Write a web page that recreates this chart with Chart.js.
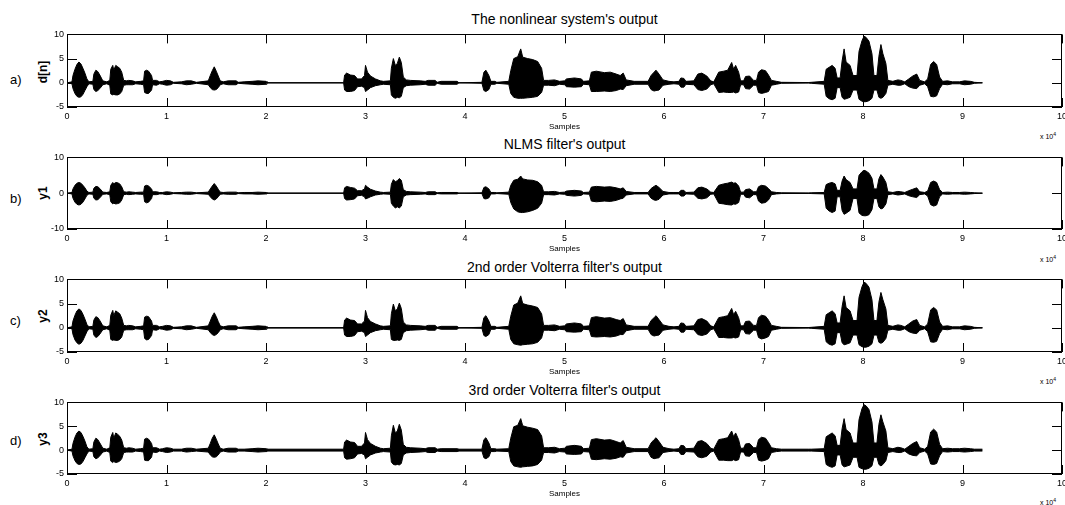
<!DOCTYPE html>
<html lang="en">
<head>
<meta charset="UTF-8">
<title>Filter outputs</title>
<script src="https://cdn.jsdelivr.net/npm/chart.js"></script>
<style>
    html, body { margin: 0; padding: 0; width: 1065px; height: 505px; overflow: hidden; background: #fff; }
    body { position: relative; font-family: "Liberation Sans", Arial, sans-serif; color: #000; }
    canvas { position: absolute; left: 0; }
    .titulo { position: absolute; left: 67px; width: 995px; text-align: center; font-size: 14px; line-height: 16px; }
    .painel { position: absolute; left: 10px; font-size: 13px; line-height: 16px; }
    .ylab { position: absolute; left: 43px; font-size: 12px; font-weight: bold; transform: translate(-50%, -50%) rotate(-90deg); white-space: nowrap; }
    .escala { position: absolute; left: 1040px; font-size: 7px; line-height: 8px; white-space: nowrap; }
    .escala sup { font-size: 5px; }
</style>
</head>
<body>
    <div class="titulo" style="top:11px">The nonlinear system's output</div>
    <div class="titulo" style="top:136px">NLMS filter's output</div>
    <div class="titulo" style="top:259px">2nd order Volterra filter's output</div>
    <div class="titulo" style="top:382px">3rd order Volterra filter's output</div>

    <div class="painel" style="top:72px">a)</div>
    <div class="painel" style="top:191px">b)</div>
    <div class="painel" style="top:313px">c)</div>
    <div class="painel" style="top:433px">d)</div>

    <div class="ylab" style="top:72px">d[n]</div>
    <div class="ylab" style="top:193px">y1</div>
    <div class="ylab" style="top:316px">y2</div>
    <div class="ylab" style="top:439px">y3</div>

    <div class="escala" style="top:130px">x 10<sup>4</sup></div>
    <div class="escala" style="top:253px">x 10<sup>4</sup></div>
    <div class="escala" style="top:375px">x 10<sup>4</sup></div>
    <div class="escala" style="top:496px">x 10<sup>4</sup></div>

    <canvas id="ga" width="1075" height="111" style="top:26px"></canvas>
    <canvas id="gb" width="1075" height="110" style="top:149px"></canvas>
    <canvas id="gc" width="1075" height="111" style="top:271px"></canvas>
    <canvas id="gd" width="1075" height="110" style="top:394px"></canvas>

<script>
    // amostras em unidades de 10^4 (pontos da envoltória)
    const amostras = [
        0.00, 0.05, 0.06, 0.08, 0.10, 0.12, 0.14, 0.16, 0.18, 0.20,
        0.22, 0.26, 0.27, 0.29, 0.31, 0.33, 0.36, 0.40, 0.43, 0.44,
        0.46, 0.47, 0.49, 0.51, 0.53, 0.55, 0.57, 0.60, 0.62, 0.66,
        0.69, 0.74, 0.77, 0.78, 0.80, 0.82, 0.85, 0.86, 0.90, 0.93,
        0.96, 1.00, 1.04, 1.07, 1.15, 1.20, 1.25, 1.30, 1.42, 1.44,
        1.46, 1.48, 1.50, 1.52, 1.54, 1.57, 1.62, 1.70, 1.72, 1.78,
        1.86, 1.92, 2.00, 2.01, 2.78, 2.79, 2.81, 2.85, 2.89, 2.92,
        2.96, 2.99, 3.00, 3.02, 3.05, 3.10, 3.15, 3.18, 3.25, 3.26,
        3.28, 3.30, 3.32, 3.34, 3.36, 3.38, 3.41, 3.45, 3.55, 3.60,
        3.63, 3.70, 3.72, 3.76, 3.92, 3.94, 4.17, 4.19, 4.21, 4.24,
        4.26, 4.30, 4.32, 4.44, 4.46, 4.49, 4.53, 4.56, 4.58, 4.63,
        4.68, 4.73, 4.77, 4.79, 4.84, 4.90, 4.95, 5.00, 5.02, 5.10,
        5.17, 5.19, 5.25, 5.27, 5.32, 5.40, 5.46, 5.52, 5.56, 5.59,
        5.62, 5.70, 5.84, 5.87, 5.90, 5.92, 5.95, 5.99, 6.05, 6.10,
        6.15, 6.17, 6.20, 6.22, 6.30, 6.34, 6.38, 6.43, 6.47, 6.50,
        6.55, 6.60, 6.64, 6.68, 6.70, 6.72, 6.75, 6.77, 6.80, 6.82,
        6.86, 6.90, 6.93, 6.95, 6.98, 7.02, 7.05, 7.08, 7.13, 7.18,
        7.45, 7.48, 7.61, 7.63, 7.66, 7.69, 7.72, 7.74, 7.77, 7.79,
        7.81, 7.83, 7.87, 7.90, 7.94, 7.96, 7.99, 8.01, 8.03, 8.06,
        8.09, 8.11, 8.14, 8.16, 8.18, 8.20, 8.23, 8.25, 8.30, 8.35,
        8.38, 8.42, 8.46, 8.50, 8.54, 8.57, 8.62, 8.65, 8.68, 8.71,
        8.74, 8.77, 8.80, 8.85, 8.90, 8.97, 9.02, 9.08, 9.12, 9.20
    ];

    // a) d[n]
    const dnMax = [
        0, 0.2, 1.5, 2.8, 3.8, 4.3, 3.9, 3.0, 2.0, 0.8,
        0.2, 0.3, 1.8, 2.6, 2.3, 1.6, 0.4, 0.2, 0.5, 2.8,
        3.6, 2.6, 3.6, 3.3, 3.0, 2.2, 0.5, 0.4, 0.5, 0.4,
        0.2, 0.3, 0.4, 2.4, 2.6, 2.4, 1.5, 0.5, 0.5, 0.2,
        0.3, 0.5, 0.4, 0.1, 0.2, 0.4, 0.4, 0.1, 0.4, 1.5,
        2.5, 3.3, 2.4, 1.4, 0.4, 0.2, 0.4, 0.4, 0.1, 0.2,
        0.3, 0.4, 0.3, 0, 0, 1.6, 2.0, 1.6, 1.5, 0.8,
        0.8, 1.5, 3.6, 2.2, 1.4, 0.8, 0.4, 0.3, 0.4, 3.0,
        5.0, 3.6, 4.0, 5.3, 4.2, 1.2, 0.6, 0.5, 0.4, 0.3,
        0.5, 0.5, 0.1, 0.3, 0.3, 0, 0.1, 2.2, 2.6, 1.5,
        0.3, 0.3, 0.1, 0.3, 2.5, 5.0, 5.4, 7.0, 5.3, 5.0,
        4.8, 4.4, 3.0, 0.5, 0.5, 0.6, 0.3, 0.4, 0.8, 1.0,
        0.8, 0.3, 0.4, 2.2, 2.4, 2.1, 2.2, 1.8, 1.5, 2.0,
        0.6, 0.3, 0.3, 1.5, 2.2, 2.6, 1.8, 0.6, 0.3, 0.2,
        0.3, 1.0, 0.9, 0.3, 0.4, 1.8, 2.0, 1.4, 0.4, 0.2,
        2.2, 2.4, 2.6, 4.2, 2.8, 3.6, 2.2, 0.4, 0.4, 1.3,
        1.4, 0.5, 0.5, 2.2, 2.7, 2.5, 1.6, 0.5, 0.3, 0.1,
        0.05, 0.1, 0.3, 2.8, 3.2, 3.6, 3.0, 1.0, 1.0, 4.5,
        7.0, 4.3, 3.6, 1.5, 1.5, 6.5, 8.7, 9.6, 9.4, 8.6,
        6.0, 1.5, 1.5, 5.5, 7.9, 6.0, 4.0, 0.5, 0.3, 0.6,
        0.5, 0.2, 0.8, 1.4, 1.8, 0.5, 0.2, 0.8, 3.8, 4.4,
        3.8, 1.2, 0.3, 0.4, 0.2, 0.2, 0.4, 0.3, 0.1, 0
    ];
    const dnMin = [
        0, -0.2, -1.2, -2.2, -2.8, -3.0, -2.9, -2.4, -1.6, -0.8,
        -0.2, -0.3, -1.4, -1.8, -1.6, -1.2, -0.4, -0.2, -0.5, -2.3,
        -2.5, -2.4, -2.5, -2.5, -2.3, -1.8, -0.5, -0.4, -0.4, -0.4,
        -0.2, -0.3, -0.4, -2.0, -2.2, -2.2, -1.5, -0.4, -0.5, -0.2,
        -0.3, -0.5, -0.4, -0.1, -0.2, -0.4, -0.3, -0.1, -0.4, -1.0,
        -1.4, -1.5, -1.4, -1.0, -0.4, -0.2, -0.4, -0.4, -0.1, -0.2,
        -0.3, -0.4, -0.3, 0, 0, -1.5, -1.8, -1.8, -1.6, -0.8,
        -0.7, -1.0, -1.8, -1.5, -1.0, -0.6, -0.4, -0.3, -0.4, -2.5,
        -3.0, -3.2, -3.0, -3.1, -2.8, -1.0, -0.6, -0.5, -0.4, -0.3,
        -0.5, -0.5, -0.1, -0.3, -0.3, 0, -0.1, -1.6, -1.8, -1.4,
        -0.3, -0.3, -0.1, -0.3, -2.2, -3.0, -3.2, -3.2, -3.2, -3.1,
        -3.0, -2.8, -2.0, -0.5, -0.5, -0.6, -0.3, -0.4, -0.8, -0.9,
        -0.8, -0.3, -0.4, -1.8, -1.8, -1.7, -1.8, -1.6, -1.3, -1.4,
        -0.6, -0.3, -0.3, -1.4, -1.7, -1.6, -1.5, -0.5, -0.3, -0.2,
        -0.3, -0.9, -0.9, -0.3, -0.4, -1.4, -1.6, -1.3, -0.4, -0.2,
        -2.0, -1.9, -2.0, -2.0, -1.9, -2.1, -1.9, -0.4, -0.4, -1.2,
        -1.3, -0.5, -0.5, -2.0, -2.2, -2.0, -1.8, -0.5, -0.3, -0.1,
        -0.05, -0.1, -0.3, -2.8, -3.3, -3.5, -3.2, -1.0, -1.0, -3.0,
        -3.4, -3.3, -3.0, -1.5, -1.5, -3.4, -3.8, -3.9, -3.9, -3.7,
        -3.2, -1.5, -1.5, -3.0, -3.2, -3.0, -2.2, -0.5, -0.3, -0.5,
        -0.5, -0.2, -0.8, -1.1, -1.2, -0.5, -0.2, -0.8, -2.8, -2.9,
        -2.7, -1.2, -0.3, -0.4, -0.2, -0.2, -0.4, -0.3, -0.1, 0
    ];

    // b) y1 (NLMS)
    const y1Max = [
        0, 0.2, 1.2, 2.2, 2.8, 3.0, 2.8, 2.2, 1.5, 0.6,
        0.2, 0.3, 1.4, 1.9, 1.8, 1.3, 0.3, 0.2, 0.4, 2.2,
        3.0, 2.6, 3.0, 2.9, 2.6, 1.8, 0.4, 0.3, 0.4, 0.3,
        0.2, 0.3, 0.3, 2.0, 2.2, 2.0, 1.2, 0.4, 0.4, 0.2,
        0.2, 0.4, 0.3, 0.1, 0.2, 0.3, 0.3, 0.1, 0.3, 1.2,
        2.0, 2.7, 2.0, 1.1, 0.3, 0.2, 0.3, 0.3, 0.1, 0.2,
        0.2, 0.3, 0.2, 0, 0, 1.5, 1.9, 1.6, 1.4, 0.7,
        0.7, 1.2, 2.2, 1.7, 1.1, 0.6, 0.3, 0.2, 0.3, 2.5,
        3.8, 3.2, 3.5, 4.1, 3.6, 1.0, 0.5, 0.4, 0.3, 0.2,
        0.4, 0.4, 0.1, 0.2, 0.2, 0, 0.1, 1.6, 1.8, 1.2,
        0.2, 0.2, 0.1, 0.3, 2.2, 3.6, 3.9, 4.8, 4.0, 3.7,
        3.6, 3.2, 2.2, 0.4, 0.4, 0.5, 0.2, 0.3, 0.6, 0.8,
        0.6, 0.2, 0.3, 1.7, 1.9, 1.7, 1.8, 1.5, 1.2, 1.5,
        0.5, 0.2, 0.2, 1.3, 1.9, 2.2, 1.6, 0.5, 0.2, 0.2,
        0.2, 0.8, 0.8, 0.2, 0.3, 1.5, 1.7, 1.2, 0.3, 0.2,
        2.2, 2.6, 2.8, 3.1, 2.8, 2.9, 2.0, 0.3, 0.3, 1.0,
        1.2, 0.4, 0.4, 1.8, 2.2, 2.0, 1.3, 0.4, 0.2, 0.1,
        0.05, 0.1, 0.2, 2.4, 2.8, 3.0, 2.6, 0.8, 0.8, 3.4,
        4.8, 3.8, 3.0, 1.2, 1.2, 5.0, 6.0, 6.4, 6.2, 5.6,
        4.2, 1.2, 1.2, 4.0, 5.2, 4.5, 3.0, 0.4, 0.2, 0.5,
        0.4, 0.2, 0.7, 1.1, 1.5, 0.4, 0.2, 0.6, 3.0, 3.4,
        3.0, 1.0, 0.2, 0.3, 0.2, 0.2, 0.3, 0.2, 0.1, 0
    ];
    const y1Min = [
        0, -0.2, -1.4, -2.5, -3.1, -3.3, -3.1, -2.5, -1.6, -0.6,
        -0.2, -0.3, -1.4, -1.9, -1.8, -1.3, -0.3, -0.2, -0.4, -2.4,
        -3.0, -2.8, -3.0, -2.9, -2.7, -1.9, -0.4, -0.3, -0.4, -0.3,
        -0.2, -0.3, -0.3, -2.4, -2.7, -2.5, -1.5, -0.4, -0.4, -0.2,
        -0.2, -0.4, -0.3, -0.1, -0.2, -0.3, -0.3, -0.1, -0.3, -1.0,
        -1.6, -1.9, -1.6, -1.0, -0.3, -0.2, -0.3, -0.3, -0.1, -0.2,
        -0.2, -0.3, -0.2, 0, 0, -1.5, -1.9, -1.8, -1.6, -0.7,
        -0.6, -1.0, -1.6, -1.4, -1.0, -0.5, -0.3, -0.2, -0.3, -2.8,
        -3.6, -4.1, -3.8, -4.1, -3.6, -1.0, -0.5, -0.4, -0.3, -0.2,
        -0.4, -0.4, -0.1, -0.2, -0.2, 0, -0.1, -1.5, -1.6, -1.3,
        -0.2, -0.2, -0.1, -0.3, -2.6, -4.4, -5.2, -5.4, -5.4, -5.2,
        -4.8, -4.2, -2.8, -0.4, -0.4, -0.5, -0.2, -0.3, -0.6, -0.8,
        -0.6, -0.2, -0.3, -2.2, -2.4, -2.2, -2.3, -2.0, -1.6, -1.4,
        -0.5, -0.2, -0.2, -1.4, -1.9, -2.0, -1.7, -0.5, -0.2, -0.2,
        -0.2, -0.8, -0.8, -0.2, -0.3, -1.4, -1.6, -1.3, -0.3, -0.2,
        -2.8, -3.0, -3.2, -3.3, -3.0, -3.1, -2.6, -0.3, -0.3, -1.1,
        -1.3, -0.4, -0.4, -2.2, -2.8, -2.6, -1.9, -0.4, -0.2, -0.1,
        -0.05, -0.1, -0.2, -4.2, -5.0, -5.4, -5.0, -1.0, -1.0, -4.8,
        -5.9, -5.6, -4.8, -1.5, -1.5, -5.5, -6.2, -6.3, -6.3, -6.0,
        -4.6, -1.5, -1.5, -3.8, -4.4, -4.2, -3.0, -0.4, -0.2, -0.5,
        -0.4, -0.2, -0.7, -1.0, -1.2, -0.4, -0.2, -0.8, -3.2, -3.6,
        -3.3, -1.0, -0.2, -0.3, -0.2, -0.2, -0.3, -0.2, -0.1, 0
    ];

    // c) y2 (Volterra 2a ordem)
    const y2Max = [
        0, 0.2, 1.4, 2.6, 3.5, 3.9, 3.6, 2.8, 1.8, 0.7,
        0.2, 0.3, 1.6, 2.3, 2.1, 1.5, 0.4, 0.2, 0.5, 2.6,
        3.6, 2.5, 3.5, 3.2, 2.9, 2.0, 0.5, 0.4, 0.5, 0.4,
        0.2, 0.3, 0.4, 2.2, 2.4, 2.3, 1.4, 0.5, 0.5, 0.2,
        0.3, 0.5, 0.4, 0.1, 0.2, 0.4, 0.4, 0.1, 0.4, 1.4,
        2.4, 3.1, 2.3, 1.3, 0.4, 0.2, 0.4, 0.4, 0.1, 0.2,
        0.3, 0.4, 0.3, 0, 0, 1.6, 2.0, 1.6, 1.5, 0.8,
        0.8, 1.4, 3.6, 2.1, 1.3, 0.8, 0.4, 0.3, 0.4, 2.9,
        4.9, 3.5, 3.9, 5.1, 4.0, 1.2, 0.6, 0.5, 0.4, 0.3,
        0.5, 0.5, 0.1, 0.3, 0.3, 0, 0.1, 2.1, 2.5, 1.4,
        0.3, 0.3, 0.1, 0.3, 2.4, 4.7, 5.1, 6.6, 5.0, 4.7,
        4.5, 4.2, 2.9, 0.5, 0.5, 0.6, 0.3, 0.4, 0.8, 1.0,
        0.8, 0.3, 0.4, 2.1, 2.3, 2.0, 2.1, 1.7, 1.5, 1.9,
        0.6, 0.3, 0.3, 1.5, 2.1, 2.5, 1.7, 0.6, 0.3, 0.2,
        0.3, 1.0, 0.9, 0.3, 0.4, 1.7, 1.9, 1.4, 0.4, 0.2,
        2.1, 2.3, 2.5, 4.0, 2.7, 3.4, 2.1, 0.4, 0.4, 1.3,
        1.4, 0.5, 0.5, 2.1, 2.6, 2.4, 1.6, 0.5, 0.3, 0.1,
        0.05, 0.1, 0.3, 2.7, 3.1, 3.5, 2.9, 1.0, 1.0, 4.4,
        6.6, 4.2, 3.5, 1.5, 1.5, 6.3, 8.5, 9.4, 9.2, 8.4,
        5.8, 1.5, 1.5, 5.3, 7.3, 5.8, 3.9, 0.5, 0.3, 0.6,
        0.5, 0.2, 0.8, 1.4, 1.7, 0.5, 0.2, 0.8, 3.7, 4.2,
        3.7, 1.2, 0.3, 0.4, 0.2, 0.2, 0.4, 0.3, 0.1, 0
    ];
    const y2Min = [
        0, -0.2, -1.4, -2.5, -3.1, -3.4, -3.2, -2.6, -1.7, -0.8,
        -0.2, -0.3, -1.5, -2.0, -1.8, -1.3, -0.4, -0.2, -0.5, -2.4,
        -2.6, -2.5, -2.6, -2.6, -2.4, -1.9, -0.5, -0.4, -0.4, -0.4,
        -0.2, -0.3, -0.4, -2.2, -2.5, -2.4, -1.6, -0.4, -0.5, -0.2,
        -0.3, -0.5, -0.4, -0.1, -0.2, -0.4, -0.3, -0.1, -0.4, -1.0,
        -1.4, -1.6, -1.4, -1.0, -0.4, -0.2, -0.4, -0.4, -0.1, -0.2,
        -0.3, -0.4, -0.3, 0, 0, -1.5, -1.8, -1.8, -1.6, -0.8,
        -0.7, -1.0, -1.8, -1.5, -1.0, -0.6, -0.4, -0.3, -0.4, -2.4,
        -2.6, -2.6, -2.5, -2.6, -2.4, -1.0, -0.6, -0.5, -0.4, -0.3,
        -0.5, -0.5, -0.1, -0.3, -0.3, 0, -0.1, -1.6, -1.8, -1.4,
        -0.3, -0.3, -0.1, -0.3, -2.4, -3.3, -3.5, -3.6, -3.5, -3.4,
        -3.3, -3.0, -2.1, -0.5, -0.5, -0.6, -0.3, -0.4, -0.8, -0.9,
        -0.8, -0.3, -0.4, -1.8, -1.9, -1.8, -1.9, -1.7, -1.4, -1.4,
        -0.6, -0.3, -0.3, -1.4, -1.7, -1.6, -1.5, -0.5, -0.3, -0.2,
        -0.3, -0.9, -0.9, -0.3, -0.4, -1.4, -1.6, -1.3, -0.4, -0.2,
        -2.0, -2.0, -2.1, -2.1, -2.0, -2.1, -1.9, -0.4, -0.4, -1.2,
        -1.3, -0.5, -0.5, -2.0, -2.3, -2.1, -1.8, -0.5, -0.3, -0.1,
        -0.05, -0.1, -0.3, -2.9, -3.4, -3.6, -3.3, -1.0, -1.0, -3.1,
        -3.5, -3.4, -3.1, -1.5, -1.5, -3.5, -3.9, -4.0, -4.0, -3.8,
        -3.3, -1.5, -1.5, -3.0, -3.2, -3.0, -2.2, -0.5, -0.3, -0.5,
        -0.5, -0.2, -0.8, -1.1, -1.2, -0.5, -0.2, -0.8, -2.9, -3.0,
        -2.8, -1.2, -0.3, -0.4, -0.2, -0.2, -0.4, -0.3, -0.1, 0
    ];

    // d) y3 (Volterra 3a ordem)
    const y3Max = [
        0, 0.2, 1.4, 2.7, 3.6, 4.0, 3.7, 2.9, 1.9, 0.7,
        0.2, 0.3, 1.7, 2.5, 2.2, 1.5, 0.4, 0.2, 0.5, 2.7,
        3.7, 2.5, 3.6, 3.3, 2.9, 2.1, 0.5, 0.4, 0.5, 0.4,
        0.2, 0.3, 0.4, 2.3, 2.5, 2.3, 1.4, 0.5, 0.5, 0.2,
        0.3, 0.5, 0.4, 0.2, 0.2, 0.4, 0.4, 0.2, 0.4, 1.4,
        2.5, 3.2, 2.3, 1.3, 0.4, 0.2, 0.4, 0.4, 0.2, 0.2,
        0.3, 0.4, 0.3, 0.2, 0.2, 1.7, 2.1, 1.7, 1.6, 0.8,
        0.8, 1.5, 3.7, 2.2, 1.4, 0.8, 0.4, 0.3, 0.4, 3.0,
        5.2, 3.6, 4.0, 5.4, 4.2, 1.2, 0.6, 0.5, 0.4, 0.3,
        0.5, 0.5, 0.2, 0.3, 0.3, 0.2, 0.2, 2.2, 2.6, 1.5,
        0.3, 0.3, 0.2, 0.3, 2.5, 4.9, 5.2, 6.6, 5.1, 4.8,
        4.6, 4.3, 3.0, 0.5, 0.5, 0.6, 0.3, 0.4, 0.8, 1.0,
        0.8, 0.3, 0.4, 2.2, 2.4, 2.1, 2.2, 1.8, 1.5, 2.0,
        0.6, 0.3, 0.3, 1.5, 2.2, 2.6, 1.8, 0.6, 0.3, 0.2,
        0.3, 1.0, 0.9, 0.3, 0.4, 1.8, 2.0, 1.4, 0.4, 0.2,
        2.2, 2.4, 2.6, 4.0, 2.8, 3.6, 2.2, 0.4, 0.4, 1.3,
        1.4, 0.5, 0.5, 2.2, 2.7, 2.5, 1.6, 0.5, 0.3, 0.2,
        0.2, 0.2, 0.3, 2.8, 3.2, 3.6, 3.0, 1.0, 1.0, 4.5,
        6.6, 4.3, 3.6, 1.5, 1.5, 6.4, 8.7, 9.5, 9.3, 8.5,
        5.9, 1.5, 1.5, 5.4, 7.4, 5.9, 4.0, 0.5, 0.3, 0.6,
        0.5, 0.2, 0.8, 1.4, 1.8, 0.5, 0.2, 0.8, 3.8, 4.4,
        3.8, 1.2, 0.3, 0.4, 0.3, 0.3, 0.4, 0.3, 0.2, 0.2
    ];
    const y3Min = [
        0, -0.2, -1.2, -2.2, -2.8, -3.0, -2.9, -2.4, -1.6, -0.8,
        -0.2, -0.3, -1.4, -1.8, -1.6, -1.2, -0.4, -0.2, -0.5, -2.3,
        -2.6, -2.4, -2.6, -2.5, -2.3, -1.8, -0.5, -0.4, -0.4, -0.4,
        -0.2, -0.3, -0.4, -2.1, -2.2, -2.2, -1.5, -0.4, -0.5, -0.2,
        -0.3, -0.5, -0.4, -0.2, -0.2, -0.4, -0.3, -0.2, -0.4, -1.0,
        -1.4, -1.5, -1.4, -1.0, -0.4, -0.2, -0.4, -0.4, -0.2, -0.2,
        -0.3, -0.4, -0.3, -0.2, -0.2, -1.6, -1.9, -1.8, -1.6, -0.8,
        -0.7, -1.0, -1.8, -1.5, -1.0, -0.6, -0.4, -0.3, -0.4, -2.5,
        -3.0, -3.1, -3.0, -3.1, -2.8, -1.0, -0.6, -0.5, -0.4, -0.3,
        -0.5, -0.5, -0.2, -0.3, -0.3, -0.2, -0.2, -1.6, -1.8, -1.4,
        -0.3, -0.3, -0.2, -0.3, -2.4, -3.3, -3.5, -3.6, -3.5, -3.4,
        -3.3, -3.0, -2.1, -0.5, -0.5, -0.6, -0.3, -0.4, -0.8, -0.9,
        -0.8, -0.3, -0.4, -1.9, -2.0, -1.8, -1.9, -1.7, -1.4, -1.5,
        -0.6, -0.3, -0.3, -1.5, -1.8, -1.7, -1.6, -0.5, -0.3, -0.2,
        -0.3, -0.9, -0.9, -0.3, -0.4, -1.4, -1.6, -1.3, -0.4, -0.2,
        -2.1, -2.1, -2.2, -2.2, -2.0, -2.2, -2.0, -0.4, -0.4, -1.2,
        -1.3, -0.5, -0.5, -2.1, -2.3, -2.1, -1.8, -0.5, -0.3, -0.2,
        -0.2, -0.2, -0.3, -3.0, -3.4, -3.6, -3.3, -1.0, -1.0, -3.1,
        -3.5, -3.4, -3.1, -1.5, -1.5, -3.6, -3.9, -4.0, -4.0, -3.8,
        -3.3, -1.5, -1.5, -3.0, -3.3, -3.0, -2.2, -0.5, -0.3, -0.5,
        -0.5, -0.2, -0.8, -1.1, -1.2, -0.5, -0.2, -0.8, -2.9, -3.0,
        -2.8, -1.2, -0.3, -0.4, -0.3, -0.3, -0.4, -0.3, -0.2, -0.2
    ];

    const fimSinal = 9.2;
    const xTicks = [0, 1, 2, 3, 4, 5, 6, 7, 8, 9, 10];

    const paineis = [
        { id: "ga", max: dnMax, min: dnMin, yMin: -5, yMax: 10, passo: 5, base: "#7a7a7a" },
        { id: "gb", max: y1Max, min: y1Min, yMin: -10, yMax: 10, passo: 10, base: "#555555" },
        { id: "gc", max: y2Max, min: y2Min, yMin: -5, yMax: 10, passo: 5, base: "#000000" },
        { id: "gd", max: y3Max, min: y3Min, yMin: -5, yMax: 10, passo: 5, base: "#000000" }
    ];

    paineis.forEach(p => {
        if (p.max.length !== amostras.length || p.min.length !== amostras.length) {
            throw new Error(p.id + ": " + p.max.length + "/" + p.min.length + " vs " + amostras.length);
        }
    });

    // caixa e ticks para dentro, estilo MATLAB
    const caixaTicks = {
        id: "caixaTicks",
        afterDraw(chart) {
            const ctx = chart.ctx;
            const a = chart.chartArea;
            const sx = chart.scales.x;
            const sy = chart.scales.y;
            ctx.save();
            ctx.strokeStyle = "#000";
            ctx.lineWidth = 1;
            ctx.beginPath();
            sx.ticks.forEach(t => {
                const px = Math.round(sx.getPixelForValue(t.value)) + 0.5;
                ctx.moveTo(px, a.top); ctx.lineTo(px, a.top + 9);
                ctx.moveTo(px, a.bottom); ctx.lineTo(px, a.bottom - 9);
            });
            sy.ticks.forEach(t => {
                const py = Math.round(sy.getPixelForValue(t.value)) + 0.5;
                ctx.moveTo(a.left, py); ctx.lineTo(a.left + 10, py);
                ctx.moveTo(a.right, py); ctx.lineTo(a.right - 10, py);
            });
            ctx.stroke();
            ctx.strokeRect(Math.round(a.left) + 0.5, Math.round(a.top) + 0.5,
                Math.round(a.right - a.left) - 1, Math.round(a.bottom - a.top) - 1);
            ctx.restore();
        }
    };

    const fonte = { family: "'Liberation Sans', Arial, sans-serif", size: 9 };

    paineis.forEach(p => {
        const ctx = document.getElementById(p.id).getContext("2d");
        new Chart(ctx, {
            type: "line",
            data: {
                datasets: [
                    {
                        data: amostras.map((x, i) => ({ x: x, y: p.max[i] })),
                        borderColor: "#000",
                        backgroundColor: "#000",
                        borderWidth: 1,
                        pointRadius: 0,
                        fill: "+1"
                    },
                    {
                        data: amostras.map((x, i) => ({ x: x, y: p.min[i] })),
                        borderColor: "#000",
                        borderWidth: 1,
                        pointRadius: 0,
                        fill: false
                    },
                    {
                        data: [{ x: 0, y: 0 }, { x: fimSinal, y: 0 }],
                        borderColor: p.base,
                        borderWidth: 1,
                        pointRadius: 0,
                        fill: false
                    }
                ]
            },
            options: {
                responsive: false,
                animation: false,
                devicePixelRatio: 1,
                layout: { padding: { top: 8, right: 13, left: 0, bottom: 0 } },
                plugins: {
                    legend: { display: false },
                    tooltip: { enabled: false }
                },
                scales: {
                    x: {
                        type: "linear",
                        min: 0,
                        max: 10,
                        afterBuildTicks: s => { s.ticks = xTicks.map(v => ({ value: v })); },
                        afterFit: s => { s.height = 30; },
                        grid: { display: false, drawTicks: false },
                        border: { display: false },
                        ticks: { color: "#000", font: fonte, padding: 4, maxRotation: 0, callback: v => v },
                        title: { display: true, text: "Samples", color: "#000", font: { family: fonte.family, size: 8 }, padding: { top: 0, bottom: 5 } }
                    },
                    y: {
                        min: p.yMin,
                        max: p.yMax,
                        ticks: { stepSize: p.passo, color: "#000", font: fonte, padding: 3 },
                        afterFit: s => { s.width = 67; },
                        grid: { display: false, drawTicks: false },
                        border: { display: false }
                    }
                }
            },
            plugins: [caixaTicks]
        });
    });
</script>
</body>
</html>
